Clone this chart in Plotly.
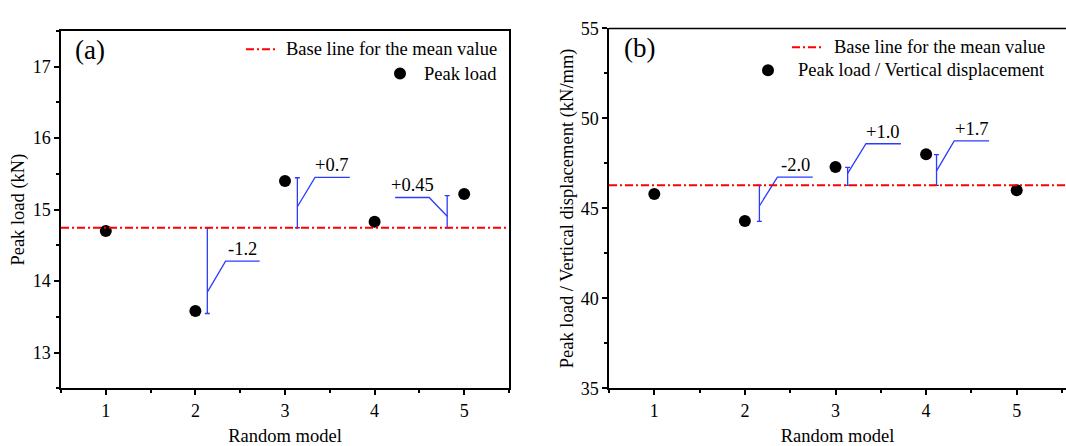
import plotly.graph_objects as go

# ---- data -------------------------------------------------------------
models = [1, 2, 3, 4, 5]

peak_load = [14.70, 13.58, 15.40, 14.83, 15.22]          # kN
stiffness = [45.8, 44.3, 47.3, 48.0, 46.0]               # kN/mm

# deviations from the mean that are called out on each panel
dev_models_a = [2, 3, 5]
dev_labels_a = ["-1.2", "+0.7", "+0.45"]
dev_models_b = [2, 3, 4]
dev_labels_b = ["-2.0", "+1.0", "+1.7"]

x_ticks = [1, 2, 3, 4, 5]
y_ticks_a = [13, 14, 15, 16, 17]
y_ticks_b = [35, 40, 45, 50, 55]

# ---- styling / layout constants ---------------------------------------
W, H = 1066, 446
FONT = "Liberation Serif"
RED = "#ff0000"
BLUE = "#2a3cff"
BLACK = "#000000"

# callout geometry: bracket offset from the model, where the leader leaves the
# bracket (fraction of its length), elbow offset/height and end offset
callouts_a = [
    dict(bdx=0.133, frac=0.75, edx=0.204, ey=14.28, endx=0.584),
    dict(bdx=0.138, frac=0.42, edx=0.197, ey=15.45, endx=0.585),
    dict(bdx=-0.19, frac=0.36, edx=-0.201, ey=15.17, endx=-0.581),
]
callouts_b = [
    dict(bdx=0.16, frac=0.575, edx=0.199, ey=46.74, endx=0.589),
    dict(bdx=0.134, frac=0.66, edx=0.202, ey=48.59, endx=0.588),
    dict(bdx=0.115, frac=0.47, edx=0.195, ey=48.75, endx=0.58),
]


def px_x(p):
    return p / W


def px_y(p):
    return 1 - p / H


fig = go.Figure()
shapes = []
annotations = []


def add_panel(xa, ya, values, dev_models, dev_labels, callouts):
    xr = "x" if xa == "xaxis" else "x2"
    yr = "y" if ya == "yaxis" else "y2"
    mean = sum(values) / len(values)

    # mean base line across the whole plot width
    shapes.append(dict(type="line", xref=f"{xr} domain", yref=yr,
                       x0=0, x1=1, y0=mean, y1=mean,
                       line=dict(color=RED, width=2, dash="8px,3px,2px,3px")))

    # data points
    fig.add_trace(go.Scatter(x=models, y=values, mode="markers",
                             marker=dict(color=BLACK, size=12),
                             xaxis=xr, yaxis=yr, showlegend=False,
                             hoverinfo="x+y"))

    for m, lab, c in zip(dev_models, dev_labels, callouts):
        d = float(lab)
        bx = m + c["bdx"]
        # bracket from the mean to mean + deviation, with caps at both ends
        fig.add_trace(go.Scatter(
            x=[bx], y=[mean], mode="markers",
            marker=dict(size=1, color="rgba(0,0,0,0)"),
            error_y=dict(type="data", symmetric=False,
                         array=[max(d, 0.0)], arrayminus=[max(-d, 0.0)],
                         color=BLUE, thickness=1.3, width=2.5),
            xaxis=xr, yaxis=yr, showlegend=False, hoverinfo="skip"))
        # leader line: bracket -> elbow -> horizontal shelf
        sy = mean + c["frac"] * d
        ex = bx + c["edx"]
        endx = bx + c["endx"]
        fig.add_trace(go.Scatter(
            x=[bx, ex, endx], y=[sy, c["ey"], c["ey"]], mode="lines",
            line=dict(color=BLUE, width=1.3),
            xaxis=xr, yaxis=yr, showlegend=False, hoverinfo="skip"))
        annotations.append(dict(
            x=(ex + endx) / 2, y=c["ey"], xref=xr, yref=yr,
            text=lab, showarrow=False, xanchor="center", yanchor="bottom",
            yshift=0, font=dict(family=FONT, size=18.5, color=BLACK)))


add_panel("xaxis", "yaxis", peak_load, dev_models_a, dev_labels_a, callouts_a)
add_panel("xaxis2", "yaxis2", stiffness, dev_models_b, dev_labels_b, callouts_b)


def legend_block(line_x0, line_x1, line_y, text_right, dot_x, dot_y, label2):
    shapes.append(dict(type="line", xref="paper", yref="paper",
                       x0=px_x(line_x0), x1=px_x(line_x1),
                       y0=px_y(line_y), y1=px_y(line_y),
                       line=dict(color=RED, width=2, dash="8px,3px,2px,3px")))
    annotations.append(dict(x=px_x(text_right), y=px_y(line_y), xref="paper",
                            yref="paper", text="Base line for the mean value",
                            showarrow=False, xanchor="right", yanchor="middle",
                            font=dict(family=FONT, size=18.5, color=BLACK)))
    shapes.append(dict(type="circle", xref="paper", yref="paper",
                       xsizemode="pixel", ysizemode="pixel",
                       xanchor=px_x(dot_x), yanchor=px_y(dot_y),
                       x0=-6, x1=6, y0=-6, y1=6,
                       fillcolor=BLACK, line=dict(width=0)))
    annotations.append(dict(x=px_x(text_right), y=px_y(dot_y), xref="paper",
                            yref="paper", text=label2,
                            showarrow=False, xanchor="right", yanchor="middle",
                            font=dict(family=FONT, size=18.5, color=BLACK)))


legend_block(246, 277, 41, 499, 400, 66.5, "Peak load")
legend_block(792, 823, 39, 1047, 768, 63, "Peak load / Vertical displacement")

# panel tags
annotations.append(dict(x=px_x(73), y=px_y(42), xref="paper", yref="paper",
                        text="(a)", showarrow=False, xanchor="left",
                        yanchor="middle",
                        font=dict(family=FONT, size=27, color=BLACK)))
annotations.append(dict(x=px_x(622), y=px_y(40), xref="paper", yref="paper",
                        text="(b)", showarrow=False, xanchor="left",
                        yanchor="middle",
                        font=dict(family=FONT, size=27, color=BLACK)))

# top border of panel (b); its right side runs off the canvas
shapes.append(dict(type="line", xref="x2 domain", yref="y2 domain",
                   x0=0, x1=1, y0=1, y1=1,
                   line=dict(color=BLACK, width=1.5)))

axis_common = dict(showline=True, linecolor=BLACK, linewidth=1.5,
                   ticks="outside", ticklen=5, tickwidth=1.5, tickcolor=BLACK,
                   showgrid=False, zeroline=False,
                   tickfont=dict(family=FONT, size=18, color=BLACK))

fig.update_layout(
    width=W, height=H,
    margin=dict(l=0, r=0, t=0, b=0),
    paper_bgcolor="white", plot_bgcolor="white",
    font=dict(family=FONT, color=BLACK),
    showlegend=False,
    xaxis=dict(axis_common, domain=[px_x(61), px_x(509)], range=[0.5, 5.5],
               anchor="y", mirror=True, tickvals=x_ticks,
               minor=dict(tickvals=[0.5, 1.5, 2.5, 3.5, 4.5, 5.5], ticklen=3,
                          tickwidth=1.5, tickcolor=BLACK, ticks="outside"),
               title=dict(text="Random model", standoff=9,
                          font=dict(family=FONT, size=18.5))),
    yaxis=dict(axis_common, domain=[px_y(396), px_y(22)], range=[12.5, 17.5],
               anchor="x", mirror=True, tickvals=y_ticks_a,
               minor=dict(tickvals=[12.5, 13.5, 14.5, 15.5, 16.5, 17.5],
                          ticklen=3, tickwidth=1.5, tickcolor=BLACK,
                          ticks="outside"),
               title=dict(text="Peak load (kN)", standoff=3,
                          font=dict(family=FONT, size=18.5))),
    xaxis2=dict(axis_common, domain=[px_x(609), 1.0], range=[0.5, 5.544],
                anchor="y2", mirror=False, tickvals=x_ticks,
                minor=dict(tickvals=[0.5, 1.5, 2.5, 3.5, 4.5, 5.5], ticklen=3,
                           tickwidth=1.5, tickcolor=BLACK, ticks="outside"),
                title=dict(text="Random model", standoff=9,
                           font=dict(family=FONT, size=18.5))),
    yaxis2=dict(axis_common, domain=[px_y(396), px_y(19.3)], range=[35, 55],
                anchor="x2", mirror=False, tickvals=y_ticks_b,
                minor=dict(tickvals=[37.5, 42.5, 47.5, 52.5], ticklen=3,
                           tickwidth=1.5, tickcolor=BLACK, ticks="outside"),
                title=dict(text="Peak load / Vertical displacement (kN/mm)",
                           standoff=2, font=dict(family=FONT, size=18.5))),
    shapes=shapes,
    annotations=annotations,
)

fig.write_html("out.html")
